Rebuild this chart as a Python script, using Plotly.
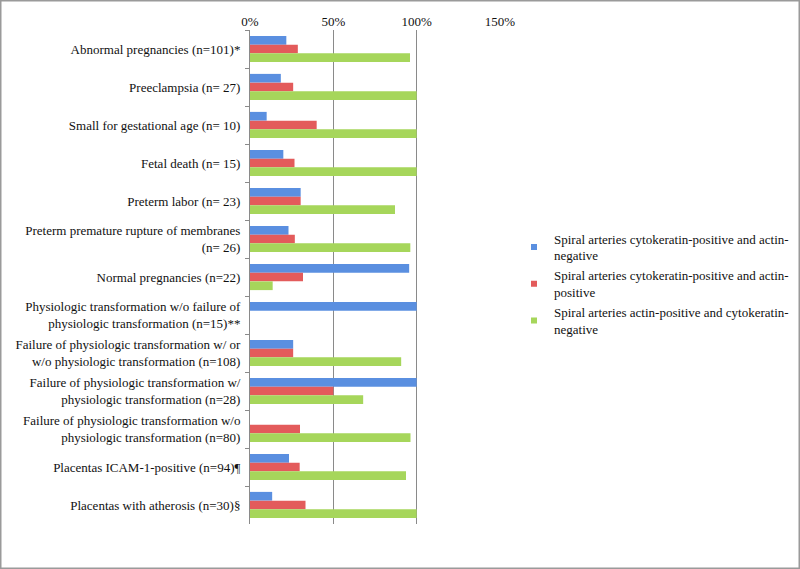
import plotly.graph_objects as go

categories = [
    "Abnormal pregnancies (n=101)*",
    "Preeclampsia (n= 27)",
    "Small for gestational age (n= 10)",
    "Fetal death (n= 15)",
    "Preterm labor (n= 23)",
    "Preterm premature rupture of membranes<br>(n= 26)",
    "Normal pregnancies (n=22)",
    "Physiologic transformation w/o failure of<br>physiologic transformation (n=15)**",
    "Failure of physiologic transformation w/ or<br>w/o physiologic transformation (n=108)",
    "Failure of physiologic transformation w/<br>physiologic transformation (n=28)",
    "Failure of physiologic transformation w/o<br>physiologic transformation (n=80)",
    "Placentas ICAM-1-positive (n=94)¶",
    "Placentas with atherosis (n=30)§",
]

ck_pos_actin_neg = [21.8, 18.5, 10.0, 20.0, 30.4, 23.1, 95.5, 100.0, 25.9, 100.0, 0.0, 23.4, 13.3]
ck_pos_actin_pos = [28.7, 25.9, 40.0, 26.7, 30.4, 26.9, 31.8, 0.0, 25.9, 50.0, 30.0, 29.8, 33.3]
actin_pos_ck_neg = [96.0, 100.0, 100.0, 100.0, 87.0, 96.2, 13.6, 0.0, 90.7, 67.9, 96.3, 93.6, 100.0]

series_names = [
    "Spiral arteries cytokeratin-positive and actin-<br>negative",
    "Spiral arteries cytokeratin-positive and actin-<br>positive",
    "Spiral arteries actin-positive and cytokeratin-<br>negative",
]
colors = ["#5A8FE0", "#E35B5B", "#A6D65B"]
x_ticks = [0, 50, 100, 150]

W, H = 800, 569
ML, MR, MT, MB = 250, 300, 30, 45
pw = W - ML - MR
ph = H - MT - MB

fig = go.Figure()
for name, vals, col in zip(series_names, [ck_pos_actin_neg, ck_pos_actin_pos, actin_pos_ck_neg], colors):
    fig.add_trace(go.Bar(
        y=categories, x=vals, name=name, orientation="h",
        marker=dict(color=col, line=dict(width=0)), showlegend=False,
    ))
for name, col in zip(series_names, colors):
    fig.add_trace(go.Scatter(
        x=[None], y=[None], mode="markers", name=name,
        marker=dict(symbol="square", size=6, color=col),
    ))

font_family = "Liberation Serif"
txt_color = "#111111"
fig.update_layout(
    width=W, height=H,
    margin=dict(l=ML, r=MR, t=MT, b=MB, autoexpand=False),
    paper_bgcolor="white", plot_bgcolor="white",
    barmode="group", bargap=0.31, bargroupgap=0,
    font=dict(family=font_family, size=13, color=txt_color),
    showlegend=True,
    legend=dict(
        x=(514 - ML) / pw, y=(H - MB - 284) / ph, xanchor="left", yanchor="middle",
        font=dict(size=13, family=font_family, color=txt_color),
        bgcolor="rgba(0,0,0,0)", traceorder="normal", itemwidth=30,
    ),
    xaxis=dict(
        side="top", range=[0, 150], tickvals=x_ticks,
        ticktext=[f"{v}%" for v in x_ticks], automargin=False,
        showgrid=True, gridcolor="#8a8a8a", gridwidth=1,
        zeroline=False, showline=False, ticks="",
        tickfont=dict(size=13, family=font_family, color=txt_color),
    ),
    yaxis=dict(
        autorange="reversed", showline=True, linecolor="#8a8a8a", automargin=False,
        ticks="outside", tickson="boundaries", ticklen=4, tickcolor="#8a8a8a",
        showgrid=False, ticklabelstandoff=6,
        tickfont=dict(size=13, family=font_family, color=txt_color),
    ),
    shapes=[dict(
        type="rect", xref="paper", yref="paper",
        x0=(0.75 - ML) / pw, x1=(W - 0.75 - ML) / pw,
        y0=(H - MB - (H - 0.75)) / ph, y1=(H - MB - 0.75) / ph,
        line=dict(color="#9a9a9a", width=1.5), fillcolor="rgba(0,0,0,0)",
    )],
)

fig.write_html(
    "out.html",
    config={"displayModeBar": False},
    post_script="document.body.style.margin='0';document.body.style.padding='0';",
)
